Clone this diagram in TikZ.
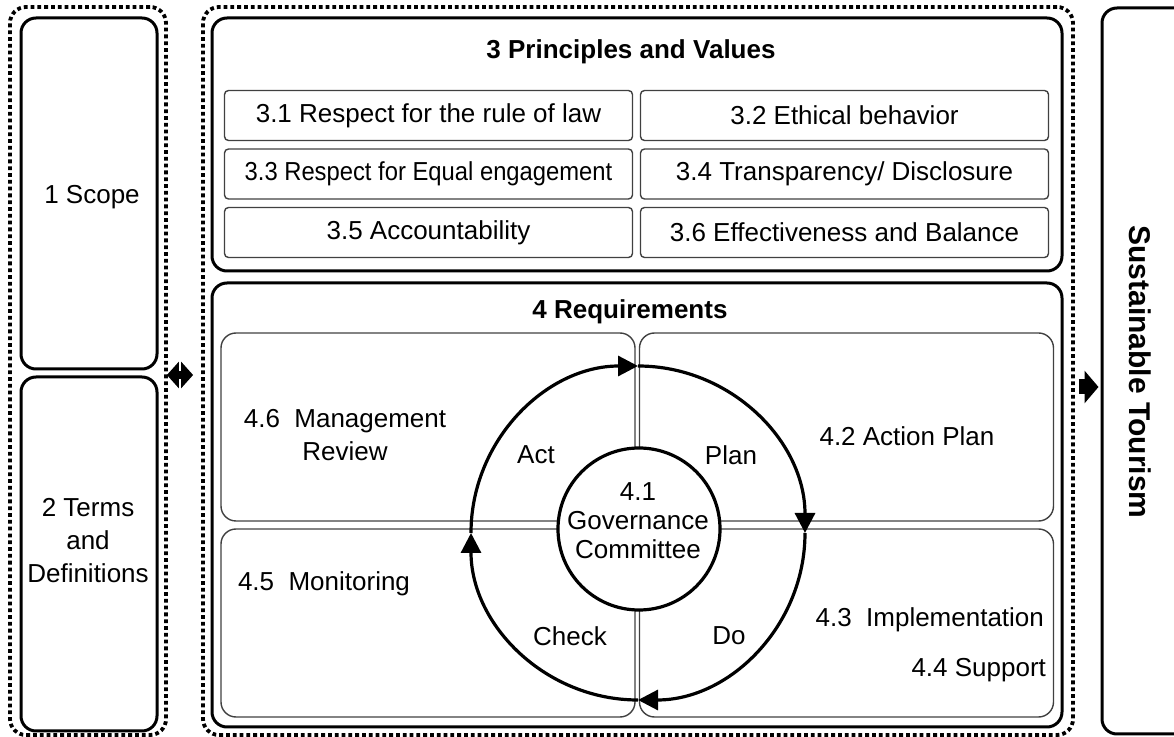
\documentclass[tikz,border=0pt]{standalone}
\usepackage{fontspec}
\setmainfont{Liberation Sans}
\usetikzlibrary{arrows.meta}

\tikzset{
	frame/.style={draw, line width=1.9pt, dash pattern=on 1.9pt off 1.5pt, rounded corners=8pt, inner sep=0pt},
	bigbox/.style={draw, line width=1.5pt, rounded corners=7.5pt, inner sep=0pt},
	itembox/.style={draw=black!75, line width=0.7pt, rounded corners=2pt, minimum width=204pt, minimum height=25pt, inner sep=0pt, font=\fontsize{13}{16}\selectfont},
	quadbox/.style={draw=black!75, line width=0.7pt, rounded corners=7.5pt, minimum width=207pt, minimum height=94pt, inner sep=0pt},
	txt/.style={font=\fontsize{13}{16.5}\selectfont, align=center},
	title/.style={font=\bfseries\fontsize{13}{16}\selectfont},
	cyclearc/.style={line width=1.6pt, -{Triangle[length=10pt,width=10pt]}}
}

\begin{document}
\begin{tikzpicture}[x=0.5pt, y=-0.5pt]
	\clip (0,0) rectangle (1174,737);
	% left column
	\node[frame, minimum width=78pt, minimum height=364pt] (leftframe) at (88,371) {};
	\node[bigbox, minimum width=68pt, minimum height=175.5pt] (scope) at (89,193.5) {};
	\node[bigbox, minimum width=68pt, minimum height=177pt] (terms) at (89,554) {};
	\node[txt] (scopetxt) at (92,197) {1 Scope};
	\node[txt] (termstxt) at (88,541) {2 Terms\\and\\Definitions};
	
	% middle column
	\node[frame, minimum width=435pt, minimum height=364pt] (midframe) at (638,371) {};
	\node[bigbox, minimum width=425pt, minimum height=126.5pt] (princ) at (637,144.5) {};
	\node[title] (princtitle) at (631,52) {3 Principles and Values};
	\foreach \n/\x/\y/\t in {1/428.5/115.5/{3.1 Respect for the rule of law}, 2/844.5/115.5/{3.2 Ethical behavior},
		3/428.5/174/{\scalebox{0.915}[1]{3.3 Respect for Equal engagement}}, 4/844.5/174/{3.4 Transparency/ Disclosure},
		5/428.5/232.5/{3.5 Accountability}, 6/844.5/232.5/{3.6 Effectiveness and Balance}}{
		\node[itembox] (item\n) at (\x,\y) {\t};
	}
	
	\node[bigbox, minimum width=425pt, minimum height=222pt] (req) at (637,505) {};
	\node[title] (reqtitle) at (630,312) {4 Requirements};
	\node[quadbox] (actq) at (428,427) {};
	\node[quadbox] (planq) at (846.5,427) {};
	\node[quadbox] (checkq) at (428,623) {};
	\node[quadbox] (doq) at (846.5,623) {};
	\node[txt] (reviewtxt) at (345,435) {4.6\ \ Management\\Review};
	\node[txt] (plantxt) at (907,436) {4.2 Action Plan};
	\node[txt] (monitxt) at (324,584) {4.5\ \ Monitoring};
	\node[txt, anchor=east] (impltxt) at (1051,620) {4.3\ \ Implementation};
	\node[txt, anchor=east] (supptxt) at (1053,670) {4.4 Support};
	
	% PDCA cycle
	\coordinate (cyc) at (638,533);
	\foreach \a in {180,90,0,-90}{
		\draw[cyclearc] (cyc) ++(\a:83.5pt) arc[start angle=\a, end angle=\a-90, radius=83.5pt];
	}
	\node[circle, draw, line width=1.6pt, fill=white, minimum size=81pt, inner sep=0pt] (gov) at (639,529) {};
	\node[txt, font=\fontsize{13}{14.5}\selectfont] (govtxt) at (638,521) {4.1\\Governance\\Committee};
	\node[txt] (acttxt) at (536,455) {Act};
	\node[txt] (plantag) at (731,455) {Plan};
	\node[txt] (checktxt) at (570,636) {Check};
	\node[txt] (dotxt) at (729,636) {Do};
	
	% right column
	\node[bigbox, minimum width=44pt, minimum height=363pt] (tourism) at (1146,371) {};
	\node[rotate=-90, font=\bfseries\fontsize{15}{18}\selectfont] (tourismtxt) at (1140,372) {Sustainable Tourism};
	
	% links
	\draw[{Triangle[length=6pt,width=13pt]}-{Triangle[length=6pt,width=13pt]}, line width=4pt] ([xshift=-0.5pt,yshift=-2pt]leftframe.east) -- ([xshift=-4pt,yshift=-2pt]midframe.west);
	\draw[-{Triangle[length=7pt,width=16pt]}, line width=7.5pt] ([xshift=2pt,yshift=-8pt]midframe.east) -- ([xshift=-1pt,yshift=-8pt]tourism.west);
\end{tikzpicture}
\end{document}
